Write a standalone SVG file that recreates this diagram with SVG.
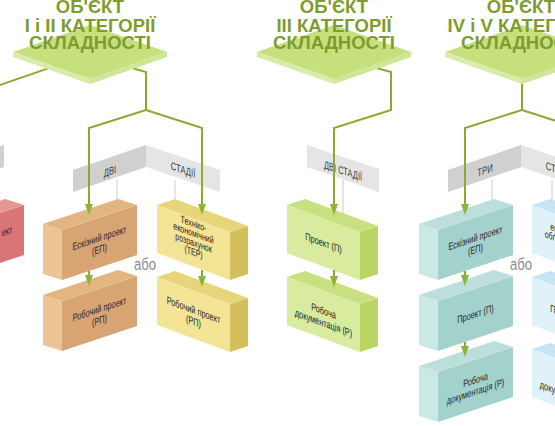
<svg xmlns="http://www.w3.org/2000/svg" width="555" height="426" viewBox="0 0 555 426">
<defs>
<marker id="ah" viewBox="0 0 11 8" refX="8" refY="4" markerWidth="11" markerHeight="8" markerUnits="userSpaceOnUse" orient="auto">
<path d="M0,0 L11,4 L0,8 z" fill="#8fb23a"/>
</marker>
<style>
.title{font-family:"Liberation Sans",Arial,sans-serif;font-weight:bold;font-size:18.5px;fill:#7e9c2f;text-anchor:middle}
.bt{font-family:"Liberation Sans",Arial,sans-serif;font-size:10.5px;fill:#262626;text-anchor:middle}
.bn{font-family:"Liberation Sans",Arial,sans-serif;font-size:11px;fill:#3c3c3c;text-anchor:middle}
.or{font-family:"Liberation Sans",Arial,sans-serif;font-size:16px;fill:#8c8c8c;text-anchor:middle}
.con{fill:none;stroke:#8aab2f;stroke-width:2}
.arr{marker-end:url(#ah)}
.leg{stroke:#dedede;stroke-width:1.5}
.dT{fill:#c7e07e}.dL{fill:#d9eba9}.dR{fill:#cfe597}
.bD{fill:#d0d0d0}.bLt{fill:#e5e5e5}
.orange .f{fill:#d9a474}.orange .s{fill:#ecc594}.orange .t{fill:#e3b581}
.yellow .f{fill:#f3e595}.yellow .s{fill:#d3c05d}.yellow .t{fill:#e6d57a}
.green .f{fill:#d8eb9e}.green .s{fill:#bad562}.green .t{fill:#c8e07f}
.teal .f{fill:#a3d2cd}.teal .s{fill:#cbe8e5}.teal .t{fill:#bcdfdc}
.lblue .f{fill:#dff2f9}.lblue .s{fill:#b8dcea}.lblue .t{fill:#c6e5f1}
.red .f{fill:#d97577}.red .s{fill:#e9a0a0}.red .t{fill:#e59594}
</style>
</defs>

<!-- banners -->
<g id="banners">
<polygon class="bD" points="-69,170 4,145 4,167 -69,192"/>
<g id="banner-left">
<polygon class="bD" points="73,170 146,145 146,167 73,192"/>
<polygon class="bLt" points="146,145 220,170 220,192 146,167"/>
<text class="bn" transform="translate(110,175) skewY(-18.9) scale(0.7,1)">ДВІ</text>
<text class="bn" transform="translate(183,173.5) skewY(18.7) scale(0.7,1)">СТАДІЇ</text>
</g>
<g id="banner-center">
<polygon class="bLt" points="307,145 379,169 379,192 307,167"/>
<text class="bn" transform="translate(343,174.5) skewY(18.4) scale(0.68,1)">ДВІ СТАДІЇ</text>
</g>
<g id="banner-right">
<polygon class="bD" points="448,170 521,145 521,167 448,192"/>
<polygon class="bLt" points="521,145 595,170 595,192 521,167"/>
<text class="bn" transform="translate(485,174) skewY(-18.9) scale(0.7,1)">ТРИ</text>
<text class="bn" transform="translate(558,173.5) skewY(18.7) scale(0.7,1)">СТАДІЇ</text>
</g>
<line class="leg" x1="117" y1="179" x2="117" y2="200"/>
<line class="leg" x1="175" y1="180" x2="175" y2="199"/>
<line class="leg" x1="343" y1="180" x2="343" y2="213"/>
<line class="leg" x1="492" y1="179" x2="492" y2="200"/>
<line class="leg" x1="552" y1="180" x2="552" y2="200"/>
</g>

<!-- boxes -->
<g id="box-red" class="red" transform="translate(-51,230)">
<polygon class="s" points="-19,-6 0,0 0,50 -19,44"/>
<polygon class="f" points="0,0 75,-25 75,25 0,50"/>
<polygon class="t" points="-19,-6 56,-31 75,-25 0,0"/>
<text class="bt" style="text-anchor:end" transform="translate(37.5,12.5) skewY(-18.43) scale(0.7,1)" x="37" y="-1">ект</text>
</g>

<g id="box-ep1" class="orange" transform="translate(62,230)">
<polygon class="s" points="-19,-6 0,0 0,50 -19,44"/>
<polygon class="f" points="0,0 75,-25 75,25 0,50"/>
<polygon class="t" points="-19,-6 56,-31 75,-25 0,0"/>
<g transform="translate(37.5,12.5) skewY(-18.43) scale(0.7,1)">
<text class="bt" y="-1">Ескізний проект</text>
<text class="bt" y="10.5">(ЕП)</text>
</g>
</g>
<g id="box-rp1" class="orange" transform="translate(62,301)">
<polygon class="s" points="-19,-6 0,0 0,50 -19,44"/>
<polygon class="f" points="0,0 75,-25 75,25 0,50"/>
<polygon class="t" points="-19,-6 56,-31 75,-25 0,0"/>
<g transform="translate(37.5,12.5) skewY(-18.43) scale(0.7,1)">
<text class="bt" y="-1">Робочий проект</text>
<text class="bt" y="10.5">(РП)</text>
</g>
</g>

<g id="box-ter" class="yellow" transform="translate(230,232)">
<polygon class="f" points="-73,-27 0,0 0,48 -73,21"/>
<polygon class="s" points="0,0 18,-6 18,42 0,48"/>
<polygon class="t" points="-73,-27 -55,-33 18,-6 0,0"/>
<g transform="translate(-36.5,10.5) skewY(20.3) scale(0.7,1)">
<text class="bt" style="font-size:10px" y="-15.5">Техніко-</text>
<text class="bt" style="font-size:10px" y="-6">економічний</text>
<text class="bt" style="font-size:10px" y="3.5">розрахунок</text>
<text class="bt" style="font-size:10px" y="13">(ТЕР)</text>
</g>
</g>
<g id="box-rp2" class="yellow" transform="translate(230,304)">
<polygon class="f" points="-73,-27 0,0 0,48 -73,21"/>
<polygon class="s" points="0,0 18,-6 18,42 0,48"/>
<polygon class="t" points="-73,-27 -55,-33 18,-6 0,0"/>
<g transform="translate(-36.5,10.5) skewY(20.3) scale(0.7,1)">
<text class="bt" y="-1">Робочий проект</text>
<text class="bt" y="10.5">(РП)</text>
</g>
</g>

<g id="box-p-center" class="green" transform="translate(360,232)">
<polygon class="f" points="-73,-27 0,0 0,48 -73,21"/>
<polygon class="s" points="0,0 18,-6 18,42 0,48"/>
<polygon class="t" points="-73,-27 -55,-33 18,-6 0,0"/>
<g transform="translate(-36.5,10.5) skewY(20.3) scale(0.7,1)">
<text class="bt" y="4">Проект (П)</text>
</g>
</g>
<g id="box-r-center" class="green" transform="translate(360,304)">
<polygon class="f" points="-73,-27 0,0 0,48 -73,21"/>
<polygon class="s" points="0,0 18,-6 18,42 0,48"/>
<polygon class="t" points="-73,-27 -55,-33 18,-6 0,0"/>
<g transform="translate(-36.5,10.5) skewY(20.3) scale(0.7,1)">
<text class="bt" y="0">Робоча</text>
<text class="bt" y="12">документація (Р)</text>
</g>
</g>

<g id="box-ep3" class="teal" transform="translate(438,230)">
<polygon class="s" points="-19,-6 0,0 0,50 -19,44"/>
<polygon class="f" points="0,0 75,-25 75,25 0,50"/>
<polygon class="t" points="-19,-6 56,-31 75,-25 0,0"/>
<g transform="translate(37.5,12.5) skewY(-18.43) scale(0.7,1)">
<text class="bt" y="-1">Ескізний проект</text>
<text class="bt" y="10.5">(ЕП)</text>
</g>
</g>
<g id="box-p3" class="teal" transform="translate(438,301)">
<polygon class="s" points="-19,-6 0,0 0,50 -19,44"/>
<polygon class="f" points="0,0 75,-25 75,25 0,50"/>
<polygon class="t" points="-19,-6 56,-31 75,-25 0,0"/>
<g transform="translate(37.5,12.5) skewY(-18.43) scale(0.7,1)">
<text class="bt" y="4">Проект (П)</text>
</g>
</g>
<g id="box-r3" class="teal" transform="translate(438,372)">
<polygon class="s" points="-19,-6 0,0 0,50 -19,44"/>
<polygon class="f" points="0,0 75,-25 75,25 0,50"/>
<polygon class="t" points="-19,-6 56,-31 75,-25 0,0"/>
<g transform="translate(37.5,12.5) skewY(-18.43) scale(0.7,1)">
<text class="bt" y="-1">Робоча</text>
<text class="bt" y="10.5">документація (Р)</text>
</g>
</g>

<g id="box-teo4" class="lblue" transform="translate(605,232)">
<polygon class="f" points="-73,-27 0,0 0,48 -73,21"/>
<polygon class="s" points="0,0 18,-6 18,42 0,48"/>
<polygon class="t" points="-73,-27 -55,-33 18,-6 0,0"/>
<g transform="translate(-36.5,10.5) skewY(20.3) scale(0.7,1)">
<text class="bt" style="font-size:10px" y="-6">економічне</text>
<text class="bt" style="font-size:10px" y="3.5">обґрунтування</text>
</g>
</g>
<g id="box-p4" class="lblue" transform="translate(605,304)">
<polygon class="f" points="-73,-27 0,0 0,48 -73,21"/>
<polygon class="s" points="0,0 18,-6 18,42 0,48"/>
<polygon class="t" points="-73,-27 -55,-33 18,-6 0,0"/>
<g transform="translate(-36.5,10.5) skewY(20.3) scale(0.7,1)">
<text class="bt" y="4">Проект (П)</text>
</g>
</g>
<g id="box-r4" class="lblue" transform="translate(605,376)">
<polygon class="f" points="-73,-27 0,0 0,48 -73,21"/>
<polygon class="s" points="0,0 18,-6 18,42 0,48"/>
<polygon class="t" points="-73,-27 -55,-33 18,-6 0,0"/>
<g transform="translate(-36.5,10.5) skewY(20.3) scale(0.7,1)">
<text class="bt" y="12">документація (Р)</text>
</g>
</g>

<g id="labels-or">
<text class="or" transform="translate(145,270) scale(0.82,1)">або</text>
<text class="or" transform="translate(521,270) scale(0.82,1)">або</text>
</g>

<!-- connectors -->
<g id="connectors">
<path class="con" d="M56,65.6 L-10,88.5"/>
<path class="con arr" d="M124,65.8 L146,72 L146,110 L89,128 L89,212"/>
<path class="con arr" d="M146,110 L202,128 L202,212"/>
<path class="con arr" d="M89,271 L89,283"/>
<path class="con arr" d="M202,270 L202,284"/>
<path class="con arr" d="M368,65.8 L391,72 L391,110 L334,128 L334,212"/>
<path class="con arr" d="M334,270 L334,284"/>
<path class="con arr" d="M522,80 L522,110 L465,128 L465,212"/>
<path class="con" d="M522,110 L578,128 L578,212"/>
<path class="con arr" d="M465,271 L465,283"/>
<path class="con arr" d="M465,342 L465,354"/>
</g>

<!-- diamonds -->
<g id="obj-1-2">
<polygon class="dT" points="13,52 90,25 167,52 90,79"/>
<polygon class="dL" points="13,52 90,79 90,84 13,57"/>
<polygon class="dR" points="90,79 167,52 167,57 90,84"/>
<text class="title" x="90" y="13">ОБ'ЄКТ</text>
<text class="title" x="90" y="31.5">I і II КАТЕГОРІЇ</text>
<text class="title" x="90" y="48.5">СКЛАДНОСТІ</text>
</g>
<g id="obj-3">
<polygon class="dT" points="257,52 334,25 411,52 334,79"/>
<polygon class="dL" points="257,52 334,79 334,84 257,57"/>
<polygon class="dR" points="334,79 411,52 411,57 334,84"/>
<text class="title" x="334" y="13">ОБ'ЄКТ</text>
<text class="title" x="334" y="31.5">III КАТЕГОРІЇ</text>
<text class="title" x="334" y="48.5">СКЛАДНОСТІ</text>
</g>
<g id="obj-4-5">
<polygon class="dT" points="445,52 522,25 599,52 522,79"/>
<polygon class="dL" points="445,52 522,79 522,84 445,57"/>
<polygon class="dR" points="522,79 599,52 599,57 522,84"/>
<text class="title" x="521" y="13">ОБ'ЄКТ</text>
<text class="title" x="520" y="31.5">IV і V КАТЕГОРІЇ</text>
<text class="title" x="522" y="48.5">СКЛАДНОСТІ</text>
</g>
</svg>
